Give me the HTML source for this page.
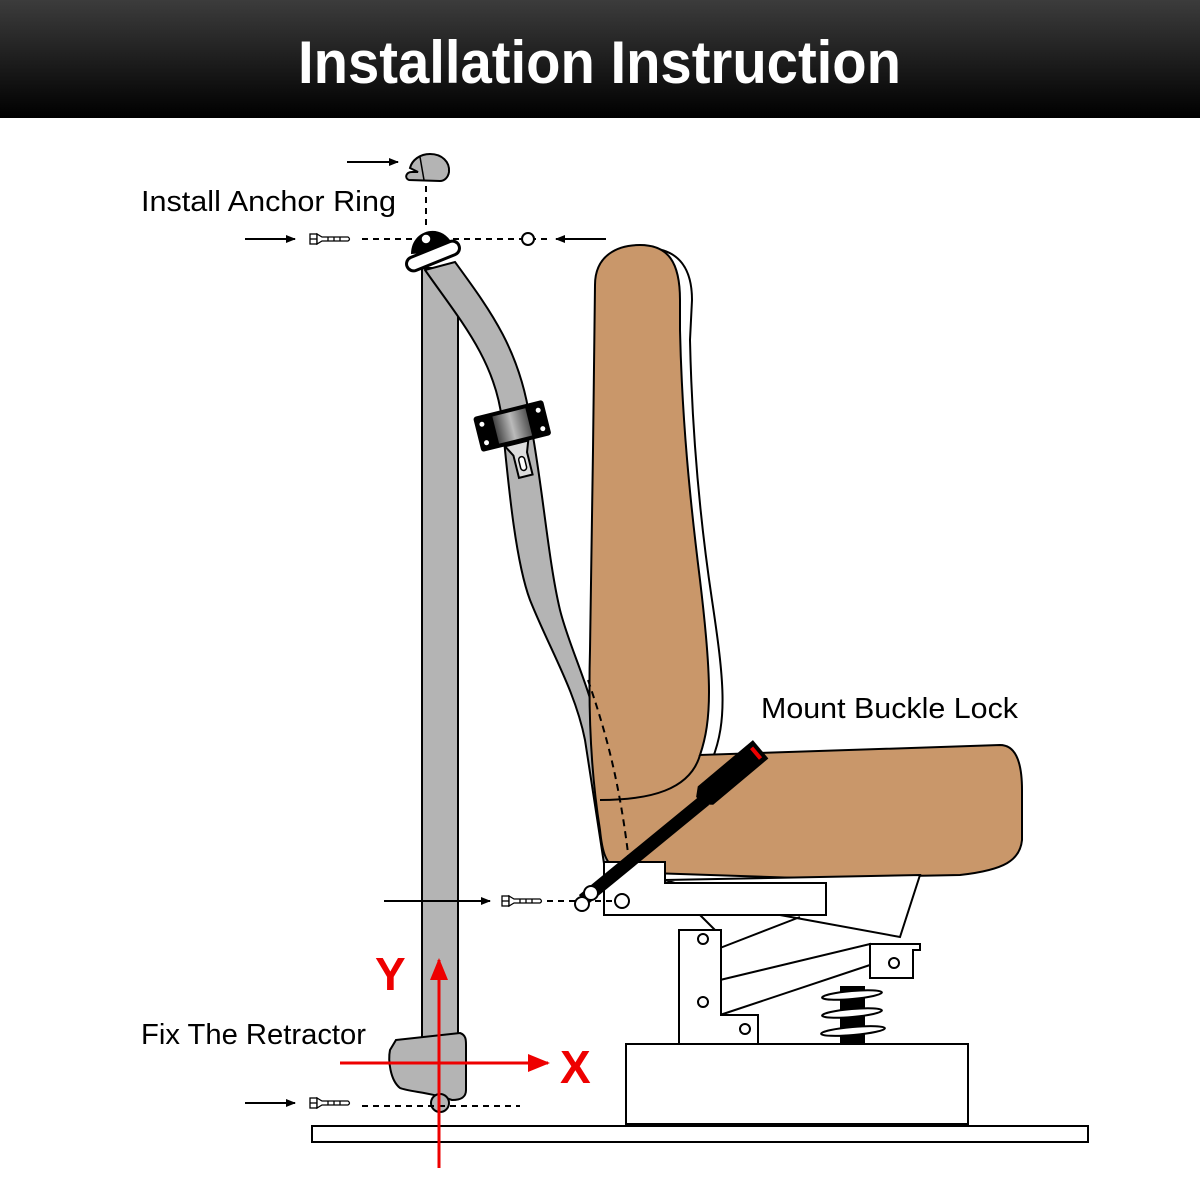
<!DOCTYPE html>
<html><head><meta charset="utf-8"><style>
html,body{margin:0;padding:0;background:#fff}
svg{display:block}
</style></head><body>
<svg width="1200" height="1200" viewBox="0 0 1200 1200" xmlns="http://www.w3.org/2000/svg" font-family="Liberation Sans, sans-serif">
<defs>
<linearGradient id="hd" x1="0" y1="0" x2="0" y2="1"><stop offset="0" stop-color="#3c3c3c"/><stop offset="1" stop-color="#000"/></linearGradient>
<linearGradient id="rl" x1="0" y1="0" x2="1" y2="0"><stop offset="0" stop-color="#444"/><stop offset="0.5" stop-color="#bbb"/><stop offset="1" stop-color="#555"/></linearGradient>
<marker id="ar" markerWidth="10" markerHeight="8" refX="9" refY="4" orient="auto" markerUnits="userSpaceOnUse"><path d="M0,0 L10,4 L0,8 Z" fill="#000"/></marker>
<marker id="rr" markerWidth="22" markerHeight="18" refX="20" refY="9" orient="auto" markerUnits="userSpaceOnUse"><path d="M0,0 L22,9 L0,18 Z" fill="#e00"/></marker>
</defs>
<rect x="0" y="0" width="1200" height="118" fill="url(#hd)"/>
<text x="298" y="83" textLength="603" lengthAdjust="spacingAndGlyphs" font-size="60" font-weight="bold" fill="#fff">Installation Instruction</text>

<g font-size="29" fill="#000">
<text x="141" y="211" textLength="255" lengthAdjust="spacingAndGlyphs">Install Anchor Ring</text>
<text x="761" y="718" textLength="257" lengthAdjust="spacingAndGlyphs">Mount Buckle Lock</text>
<text x="141" y="1044" textLength="225" lengthAdjust="spacingAndGlyphs">Fix The Retractor</text>
</g>

<path d="M650,248 C680,250 692,270 692,300 L690,340 C692,430 700,520 712,600 C724,680 728,720 712,760 L690,770 Z" fill="#fff" stroke="#000" stroke-width="2"/>

<rect x="422" y="268" width="36" height="770" fill="#b4b4b4" stroke="#000" stroke-width="2"/>
<path d="M425,270 C460,320 495,360 502,420 C508,480 515,560 530,600 C550,650 575,690 585,740 L605,870 L620,870 L600,740 C592,690 570,650 560,610 C548,560 542,480 530,420 C520,350 490,310 455,262 Z" fill="#b4b4b4" stroke="#000" stroke-width="2"/>

<path d="M595,285 C595,255 618,245 640,245 C668,245 680,262 680,300 L680,330 C682,420 690,500 700,580 C712,680 712,720 700,755 L1000,745 C1015,745 1022,760 1022,790 L1022,840 C1020,860 1005,870 960,875 L800,878 L620,872 C605,865 602,850 600,830 C592,780 588,720 590,650 L593,450 Z" fill="#c9976a" stroke="#000" stroke-width="2"/>
<path d="M600,800 C650,800 690,790 700,755" fill="none" stroke="#000" stroke-width="2"/>
<path d="M588,680 C605,730 620,780 630,870" fill="none" stroke="#000" stroke-width="2" stroke-dasharray="7,5"/>

<g transform="rotate(-14 512 425)">
<rect x="476" y="408" width="72" height="36" rx="3" fill="#000"/>
<rect x="495" y="412" width="34" height="28" fill="url(#rl)"/>
<path d="M500,444 L524,444 L520,455 L520,478 L506,478 L506,455 Z" fill="#ddd" stroke="#000" stroke-width="2"/>
<rect x="510" y="458" width="6" height="14" rx="3" fill="#fff" stroke="#000" stroke-width="1.5"/>
<circle cx="483" cy="417" r="2.5" fill="#fff"/><circle cx="483" cy="436" r="2.5" fill="#fff"/>
<circle cx="541" cy="417" r="2.5" fill="#fff"/><circle cx="541" cy="436" r="2.5" fill="#fff"/>
</g>

<path d="M411,254 C411,230 440,222 452,243 L440,252 Z" fill="#000"/>
<rect x="405" y="249" width="56" height="14" rx="7" fill="#fff" stroke="#000" stroke-width="3" transform="rotate(-22 433 256)"/>
<circle cx="426" cy="239" r="5" fill="#fff" stroke="#000" stroke-width="1.5"/>
<line x1="426" y1="186" x2="426" y2="228" stroke="#000" stroke-width="2" stroke-dasharray="6,5"/>
<line x1="362" y1="239" x2="412" y2="239" stroke="#000" stroke-width="2" stroke-dasharray="6,5"/>
<line x1="442" y1="239" x2="548" y2="239" stroke="#000" stroke-width="2" stroke-dasharray="6,5"/>
<circle cx="528" cy="239" r="6" fill="#fff" stroke="#000" stroke-width="2"/>
<!-- cap -->
<path d="M409,180 C404,178 406,172 412,172 L418,172 L410,168 C412,160 420,154 430,154 C442,154 450,162 449,172 C448,178 444,181 440,181 Z" fill="#b4b4b4" stroke="#000" stroke-width="2"/>
<line x1="420" y1="157" x2="424" y2="180" stroke="#000" stroke-width="1.5"/>
<g stroke="#000" stroke-width="2">
<line x1="347" y1="162" x2="398" y2="162" marker-end="url(#ar)"/>
<line x1="245" y1="239" x2="295" y2="239" marker-end="url(#ar)"/>
<line x1="606" y1="239" x2="556" y2="239" marker-end="url(#ar)"/>
<line x1="384" y1="901" x2="490" y2="901" marker-end="url(#ar)"/>
<line x1="245" y1="1103" x2="295" y2="1103" marker-end="url(#ar)"/>
</g>
<g fill="#fff" stroke="#000" stroke-width="1.3">
<g transform="translate(310,234)"><rect x="0" y="0" width="7" height="10"/><line x1="0" y1="5" x2="7" y2="5"/><path d="M7,0 L12,3 L38,3 Q41,5 38,7 L12,7 L7,10 Z"/><line x1="18" y1="3" x2="18" y2="7"/><line x1="24" y1="3" x2="24" y2="7"/><line x1="30" y1="3" x2="30" y2="7"/></g>
<g transform="translate(502,896)"><rect x="0" y="0" width="7" height="10"/><line x1="0" y1="5" x2="7" y2="5"/><path d="M7,0 L12,3 L38,3 Q41,5 38,7 L12,7 L7,10 Z"/><line x1="18" y1="3" x2="18" y2="7"/><line x1="24" y1="3" x2="24" y2="7"/><line x1="30" y1="3" x2="30" y2="7"/></g>
<g transform="translate(310,1098)"><rect x="0" y="0" width="7" height="10"/><line x1="0" y1="5" x2="7" y2="5"/><path d="M7,0 L12,3 L38,3 Q41,5 38,7 L12,7 L7,10 Z"/><line x1="18" y1="3" x2="18" y2="7"/><line x1="24" y1="3" x2="24" y2="7"/><line x1="30" y1="3" x2="30" y2="7"/></g>
</g>

<g fill="#fff" stroke="#000" stroke-width="2">
<path d="M665,880 L920,875 L900,937 L780,915 Z"/>
<path d="M700,915 L720,935 M720,948 L800,917 M720,980 L870,944 L870,965 L720,1015"/>
<path d="M604,862 L665,862 L665,883 L826,883 L826,915 L604,915 Z"/>
<circle cx="622" cy="901" r="7"/>
<path d="M870,944 L920,944 L920,950 L913,950 L913,978 L870,978 Z"/>
<circle cx="894" cy="963" r="5"/>
<path d="M679,930 L721,930 L721,1015 L758,1015 L758,1044 L679,1044 Z"/>
<circle cx="703" cy="939" r="5"/><circle cx="703" cy="1002" r="5"/><circle cx="745" cy="1029" r="5"/>
</g>
<rect x="840" y="986" width="25" height="58" fill="#000"/>
<g fill="#fff" stroke="#000" stroke-width="2">
<ellipse cx="852" cy="995" rx="30" ry="4" transform="rotate(-5 852 995)"/>
<ellipse cx="852" cy="1013" rx="30" ry="4" transform="rotate(-5 852 1013)"/>
<ellipse cx="853" cy="1031" rx="32" ry="4" transform="rotate(-5 853 1031)"/>
</g>
<rect x="626" y="1044" width="342" height="80" fill="#fff" stroke="#000" stroke-width="2"/>
<rect x="312" y="1126" width="776" height="16" fill="#fff" stroke="#000" stroke-width="2"/>

<line x1="583" y1="900" x2="705" y2="800" stroke="#000" stroke-width="13"/>
<line x1="547" y1="901" x2="575" y2="901" stroke="#000" stroke-width="2" stroke-dasharray="6,5"/>
<line x1="595" y1="901" x2="614" y2="901" stroke="#000" stroke-width="2" stroke-dasharray="6,5"/>
<circle cx="591" cy="893" r="7" fill="#fff" stroke="#000" stroke-width="2"/>
<circle cx="582" cy="904" r="7" fill="#fff" stroke="#000" stroke-width="2"/>
<g transform="rotate(-40 730 775)">
<path d="M698,763 L770,763 L770,787 L698,787 L690,780 L690,770 Z" fill="#000"/>
<rect x="752" y="765" width="16" height="20" fill="#000"/>
<rect x="762" y="768" width="4" height="14" fill="#e00"/>
</g>

<path d="M396,1040 L460,1033 C466,1035 466,1040 466,1045 L466,1090 C466,1098 460,1100 452,1100 C430,1092 410,1092 400,1088 C390,1080 388,1060 390,1050 Z" fill="#b4b4b4" stroke="#000" stroke-width="2"/>
<circle cx="440" cy="1103" r="9" fill="#b4b4b4" stroke="#000" stroke-width="2"/>
<line x1="362" y1="1106" x2="520" y2="1106" stroke="#000" stroke-width="2" stroke-dasharray="6,5"/>

<line x1="439" y1="1168" x2="439" y2="960" stroke="#e00" stroke-width="3" marker-end="url(#rr)"/>
<line x1="340" y1="1063" x2="548" y2="1063" stroke="#e00" stroke-width="3" marker-end="url(#rr)"/>
<text x="375" y="990" font-size="46" font-weight="bold" fill="#e00">Y</text>
<text x="560" y="1083" font-size="46" font-weight="bold" fill="#e00">X</text>
</svg>
</body></html>
